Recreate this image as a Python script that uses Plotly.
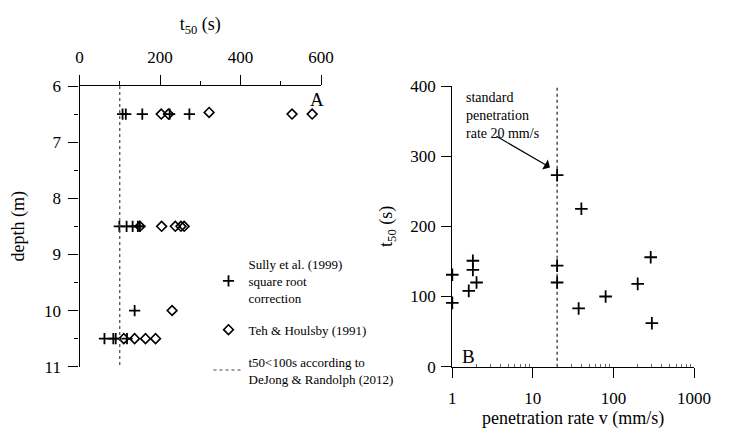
import plotly.graph_objects as go
import numpy as np

# ---- Panel A data: depth (m) vs t50 (s)
sully_t50 = [107, 115, 156, 224, 273, 99, 117, 132, 145, 150, 137, 62, 84, 90, 118]
sully_depth = [6.5, 6.5, 6.5, 6.5, 6.5, 8.5, 8.5, 8.5, 8.5, 8.5, 10.0, 10.5, 10.5, 10.5, 10.5]
teh_t50 = [203, 221, 322, 528, 578, 150, 204, 238, 252, 260, 230, 110, 137, 164, 189]
teh_depth = [6.5, 6.5, 6.47, 6.5, 6.5, 8.5, 8.5, 8.5, 8.5, 8.5, 10.0, 10.5, 10.5, 10.5, 10.5]
limit_t50 = [100, 100]
limit_depth = [6, 11]

# ---- Panel B data: penetration rate vs t50
rate_v = [1, 1, 1.6, 1.8, 1.8, 2.0, 20, 20, 20, 37, 40, 80, 200, 290, 300]
rate_t50 = [131, 91, 108, 151, 138, 120, 273, 144, 120, 83, 225, 100, 118, 156, 62]
std_rate = [20, 20]
std_t50 = [0, 400]

FONT = "Liberation Serif"
BLACK = "#000000"
W, H = 722, 429   # page has an 8px body margin


def fx(px):
    return (px - 8) / W


def fy(py):
    return 1 - (py - 8) / H


fig = go.Figure()

fig.add_trace(go.Scatter(
    x=sully_t50, y=sully_depth, mode="markers", xaxis="x", yaxis="y",
    name="Sully et al. (1999)<br>square root<br>correction", legendgroup="a",
    marker=dict(symbol="cross-thin", size=8, line=dict(width=1.8, color=BLACK)),
    cliponaxis=False))
fig.add_trace(go.Scatter(
    x=teh_t50, y=teh_depth, mode="markers", xaxis="x", yaxis="y",
    name="Teh & Houlsby (1991)", legendgroup="b",
    marker=dict(symbol="diamond-open", size=7.5, color=BLACK, line=dict(width=1.6, color=BLACK)),
    cliponaxis=False))
fig.add_trace(go.Scatter(
    x=limit_t50, y=limit_depth, mode="lines", xaxis="x", yaxis="y",
    name="t50<100s according to<br>DeJong & Randolph (2012)", legendgroup="c",
    line=dict(color="#444444", width=1.2, dash="3px,3px")))

fig.add_trace(go.Scatter(
    x=std_rate, y=std_t50, mode="lines", xaxis="x2", yaxis="y2", showlegend=False,
    line=dict(color="#222222", width=1.2, dash="3px,3px")))
fig.add_trace(go.Scatter(
    x=rate_v, y=rate_t50, mode="markers", xaxis="x2", yaxis="y2", showlegend=False,
    marker=dict(symbol="cross-thin", size=9, line=dict(width=1.8, color=BLACK)),
    cliponaxis=False))

axis_common = dict(showgrid=False, zeroline=False, showline=True, linecolor=BLACK,
                   linewidth=1.3, ticks="outside", tickcolor=BLACK, tickwidth=1.3,
                   ticklen=10, automargin=False,
                   tickfont=dict(family=FONT, size=17, color=BLACK))

ydom = [fy(366.7), fy(86)]

fig.update_layout(
    width=W, height=H,
    margin=dict(l=0, r=0, t=0, b=0),
    paper_bgcolor="white", plot_bgcolor="white",
    font=dict(family=FONT, color=BLACK),
    xaxis=dict(**axis_common, domain=[fx(79.5), fx(321)], range=[0, 600], side="top",
               anchor="y", tickvals=[0, 200, 400, 600], ticklabelstandoff=5,
               minor=dict(tickvals=[100, 300, 500], ticklen=4, ticks="outside", tickcolor=BLACK),
               title=dict(text="t<sub>50</sub> (s)", font=dict(family=FONT, size=18), standoff=12)),
    yaxis=dict(**axis_common, domain=ydom, range=[11, 6], anchor="x",
               tickvals=[6, 7, 8, 9, 10, 11], ticklabelstandoff=4,
               minor=dict(tickvals=[6.5, 7.5, 8.5, 9.5, 10.5], ticklen=4, ticks="outside", tickcolor=BLACK),
               title=dict(text="depth (m)", font=dict(family=FONT, size=18), standoff=16)),
    xaxis2=dict(**axis_common, domain=[fx(452.3), fx(694)], type="log", range=[0, 3], anchor="y2",
                tickvals=[1, 10, 100, 1000], ticktext=["1", "10", "100", "1000"],
                ticklabelstandoff=6,
                minor=dict(ticks="inside", ticklen=3, tickcolor="#666666", tickwidth=1,
                           tickvals=[2, 3, 4, 5, 6, 7, 8, 9, 20, 30, 40, 50, 60, 70, 80, 90,
                                     200, 300, 400, 500, 600, 700, 800, 900]),
                title=dict(text="penetration rate v (mm/s)", font=dict(family=FONT, size=18), standoff=2)),
    yaxis2=dict(**axis_common, domain=ydom, range=[0, 400], anchor="x2",
                tickvals=[0, 100, 200, 300, 400], ticklabelstandoff=2,
                title=dict(text="t<sub>50</sub> (s)", font=dict(family=FONT, size=18), standoff=12)),
    showlegend=True,
    legend=dict(x=fx(208.5), y=fy(249), xanchor="left", yanchor="top", traceorder="grouped",
                tracegroupgap=12, bgcolor="rgba(0,0,0,0)",
                font=dict(family=FONT, size=13, color=BLACK)),
    annotations=[
        dict(text="A", x=590, y=6.24, xref="x", yref="y", showarrow=False,
             font=dict(family=FONT, size=19, color=BLACK)),
        dict(text="B", x=np.log10(1.57), y=14, xref="x2", yref="y2", showarrow=False,
             font=dict(family=FONT, size=19, color=BLACK)),
        dict(text="standard<br>penetration<br>rate 20 mm/s", x=np.log10(1.41), y=397,
             xref="x2", yref="y2", xanchor="left", yanchor="top", align="left",
             showarrow=False, font=dict(family=FONT, size=14, color=BLACK)),
        dict(text="", x=np.log10(16.3), y=284, xref="x2", yref="y2", showarrow=True,
             axref="pixel", ayref="pixel", ax=-55, ay=-32, arrowhead=1, arrowsize=1.6,
             arrowwidth=1.2, arrowcolor=BLACK),
    ],
)

fig.write_html("out.html")
